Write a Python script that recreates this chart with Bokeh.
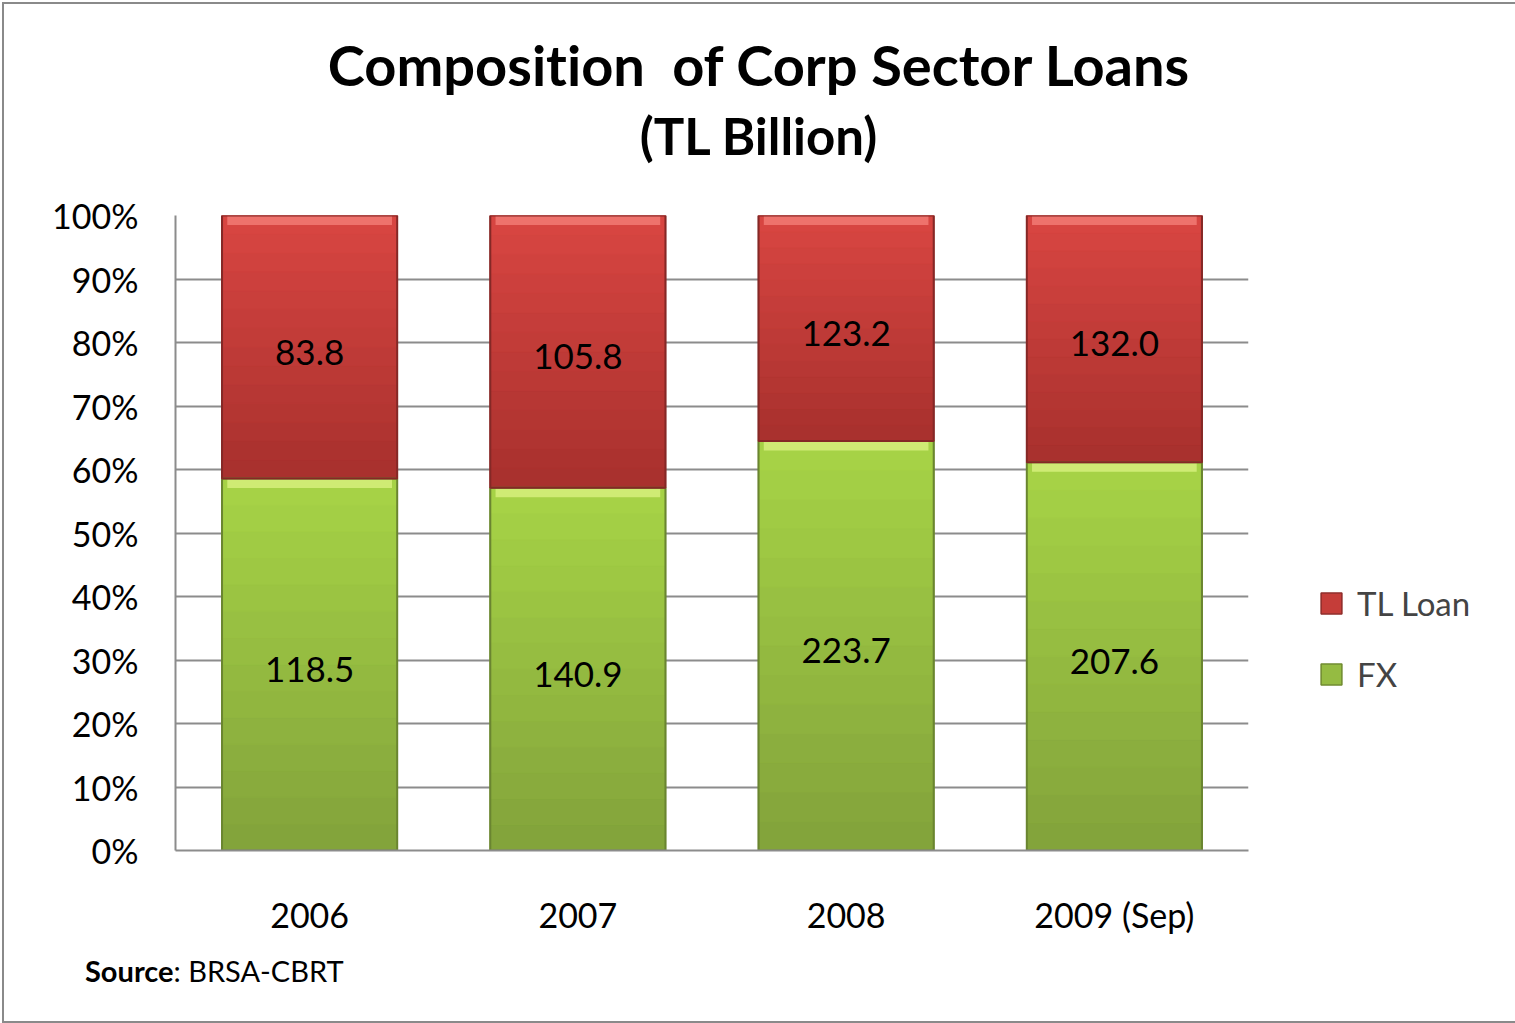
from bokeh.plotting import figure
from bokeh.models import (ColumnDataSource, FixedTicker, NumeralTickFormatter, Range1d,
                          Legend, LegendItem, Div)
from bokeh.layouts import column
from bokeh.core.properties import value
from bokeh.embed import file_html
from bokeh.resources import INLINE

categories = ["2006", "2007", "2008", "2009 (Sep)"]
fx_values = [118.5, 140.9, 223.7, 207.6]
tl_values = [83.8, 105.8, 123.2, 132.0]
y_ticks = [0.0, 0.1, 0.2, 0.3, 0.4, 0.5, 0.6, 0.7, 0.8, 0.9, 1.0]
title_text = "Composition&nbsp; of Corp Sector Loans"
subtitle_text = "(TL Billion)"
source_bold = "Source"
source_rest = ": BRSA-CBRT"

totals = [f + t for f, t in zip(fx_values, tl_values)]
fx_share = [f / s for f, s in zip(fx_values, totals)]
tl_share = [t / s for t, s in zip(tl_values, totals)]

src = ColumnDataSource(dict(
    cat=categories,
    fx=fx_share,
    one=[1.0] * len(categories),
    zero=[0.0] * len(categories),
    fx_mid=[f / 2 for f in fx_share],
    tl_mid=[f + t / 2 for f, t in zip(fx_share, tl_share)],
    fx_lbl=[f"{v:.1f}" for v in fx_values],
    tl_lbl=[f"{v:.1f}" for v in tl_values],
    fx_hl=[f - 0.015 for f in fx_share],
    top_hl=[1.0 - 0.015] * len(categories),
))

# vertical shading of each segment (bottom colour -> top colour)
FX_BOT, FX_TOP = (0x82, 0xa2, 0x3b), (0xa7, 0xd4, 0x46)
TL_BOT, TL_TOP = (0xa7, 0x30, 0x2d), (0xd9, 0x46, 0x42)
K = 14


def _mix(c0, c1, t):
    return "#%02x%02x%02x" % tuple(round(a + (b - a) * t) for a, b in zip(c0, c1))


sl = dict(cat=[], b=[], t=[], c=[])
for i, cat in enumerate(categories):
    for (b0, t0, cb, ct) in ((0.0, fx_share[i], FX_BOT, FX_TOP),
                             (fx_share[i], 1.0, TL_BOT, TL_TOP)):
        for k in range(K):
            sl["cat"].append(cat)
            sl["b"].append(b0 + (t0 - b0) * k / K)
            sl["t"].append(b0 + (t0 - b0) * (k + 1) / K)
            sl["c"].append(_mix(cb, ct, (k + 0.5) / K))
slices = ColumnDataSource(sl)

FONT = "Lato"
GRID = "#8c8c8c"
W = 1503

p = figure(x_range=categories, y_range=Range1d(0, 1),
           frame_width=1073, frame_height=635,
           min_border_left=171, min_border_right=W - 171 - 1073,
           min_border_top=36, min_border_bottom=95,
           output_backend="svg", toolbar_location=None, margin=0)
p.outline_line_color = None
p.background_fill_color = "white"
p.border_fill_color = "white"

BAR_W = 0.653
fx_r = p.vbar(x="cat", bottom="zero", top="fx", width=BAR_W, source=src,
              fill_color="#95bb42", line_color="#6f8a2e", line_width=1.5)
tl_r = p.vbar(x="cat", bottom="fx", top="one", width=BAR_W, source=src,
              fill_color="#c53d39", line_color="#8e2a27", line_width=1.5)
p.vbar(x="cat", bottom="b", top="t", width=BAR_W, source=slices,
       fill_color="c", line_color="c", line_width=0.6)
# bevel highlight bands at the top of each segment
p.vbar(x="cat", bottom="fx_hl", top="fx", width=BAR_W * 0.94, source=src,
       fill_color="#d6f07c", line_color=None, fill_alpha=0.85)
p.vbar(x="cat", bottom="top_hl", top="one", width=BAR_W * 0.94, source=src,
       fill_color="#f27a74", line_color=None, fill_alpha=0.85)
# dark outline of each segment
p.vbar(x="cat", bottom="zero", top="fx", width=BAR_W, source=src,
       fill_color=None, line_color="#6a8530", line_width=2)
p.vbar(x="cat", bottom="fx", top="one", width=BAR_W, source=src,
       fill_color=None, line_color="#852826", line_width=2)

for col_y, col_t in (("fx_mid", "fx_lbl"), ("tl_mid", "tl_lbl")):
    p.text(x="cat", y=col_y, text=col_t, source=src, text_align="center",
           text_baseline="middle", text_font=value(FONT), text_font_size="35px",
           text_color="black", y_offset=5)

# axes
p.yaxis.ticker = FixedTicker(ticks=y_ticks)
p.yaxis.formatter = NumeralTickFormatter(format="0%")
p.yaxis.major_tick_line_color = None
p.yaxis.minor_tick_line_color = None
p.yaxis.axis_line_color = GRID
p.yaxis.axis_line_width = 2
p.yaxis.major_label_text_font = FONT
p.yaxis.major_label_text_font_size = "34px"
p.yaxis.major_label_text_color = "black"
p.yaxis.major_label_standoff = 31

p.xaxis.major_tick_line_color = None
p.xaxis.axis_line_color = GRID
p.xaxis.axis_line_width = 2
p.xaxis.major_label_text_font = FONT
p.xaxis.major_label_text_font_size = "34px"
p.xaxis.major_label_text_color = "black"
p.xaxis.major_label_standoff = 37

p.xgrid.grid_line_color = None
p.ygrid.grid_line_color = GRID
p.ygrid.grid_line_width = 2

legend = Legend(items=[LegendItem(label="TL Loan", renderers=[tl_r]),
                       LegendItem(label="FX", renderers=[fx_r])],
                location=(70, 156), orientation="vertical",
                glyph_width=26, glyph_height=26, label_standoff=13,
                spacing=31, padding=0, margin=0,
                label_text_font=FONT, label_text_font_size="33px",
                border_line_color=None, background_fill_alpha=0)
p.add_layout(legend, "right")

title_div = Div(
    text=(f'<div style="font-family:{FONT};font-weight:bold;color:black;text-align:center;'
          f'font-variant-ligatures:none;width:{W + 6}px;">'
          f'<div style="font-size:56px;line-height:68px;margin-top:27px;">{title_text}</div>'
          f'<div style="font-size:51px;line-height:68px;margin-top:3px;">{subtitle_text}</div></div>'),
    width=W, height=175, margin=0, styles={"overflow": "hidden"})

source_div = Div(
    text=(f'<div style="font-family:{FONT};font-size:29px;color:black;padding-left:81px;'
          f'line-height:40px;margin-top:6px;"><b>{source_bold}</b>{source_rest}</div>'),
    width=W, height=76, margin=0)

layout = column(title_div, p, source_div, spacing=0,
                styles={"border": "2px solid #8a8a8a", "margin": "2px",
                        "background-color": "white"})

open("out.html", "w").write(file_html(layout, INLINE))
